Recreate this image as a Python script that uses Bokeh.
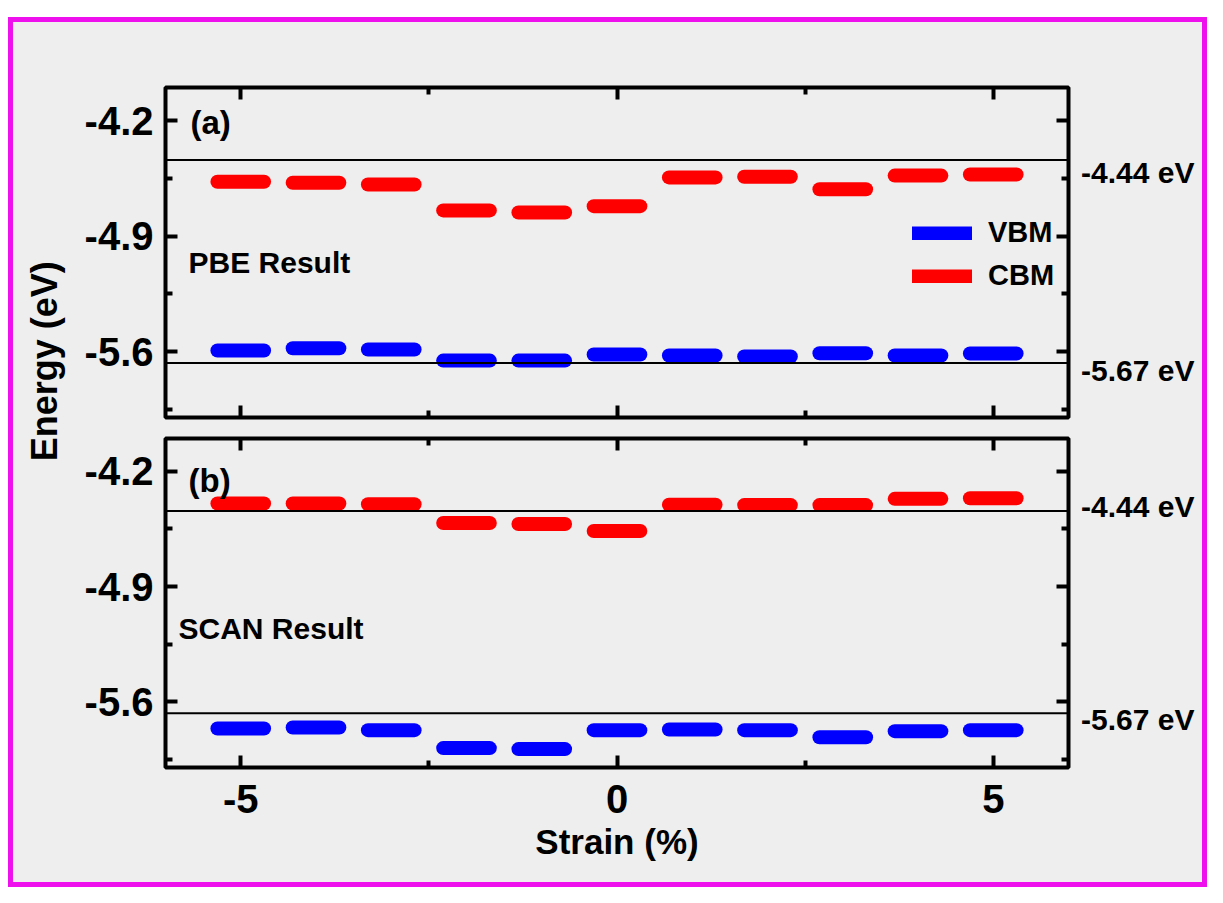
from bokeh.plotting import figure
from bokeh.models import (ColumnDataSource, Span, Label, Legend, LegendItem, FixedTicker,
                          LinearAxis, Range1d, CustomJSTickFormatter)
from bokeh.layouts import column, row
from bokeh.embed import file_html
from bokeh.resources import INLINE

# ---------------- data ----------------
strain = [-5, -4, -3, -2, -1, 0, 1, 2, 3, 4, 5]
pbe_vbm = [-5.594, -5.580, -5.588, -5.655, -5.655, -5.618, -5.624, -5.630, -5.611, -5.624, -5.612]
pbe_cbm = [-4.571, -4.577, -4.588, -4.745, -4.758, -4.719, -4.545, -4.541, -4.617, -4.534, -4.527]
scan_vbm = [-5.763, -5.757, -5.773, -5.882, -5.888, -5.773, -5.769, -5.773, -5.816, -5.779, -5.773]
scan_cbm = [-4.395, -4.395, -4.400, -4.514, -4.520, -4.562, -4.403, -4.405, -4.405, -4.367, -4.363]

ref_levels = [-4.44, -5.67]
ref_labels = ["-4.44 eV", "-5.67 eV"]
y_major = [-4.2, -4.9, -5.6]
y_minor = [-4.55, -5.25, -5.95]
x_major = [-5, 0, 5]
x_minor = [-2.5, 2.5]
panel_tags = ["(a)", "(b)"]
panel_titles = ["PBE Result", "SCAN Result"]
series_names = ["VBM", "CBM"]

# ---------------- style ----------------
FONT = "Liberation Sans"
BG = "#eeeeee"
MAGENTA = "#ee11ee"
BLUE = "#0000ff"
RED = "#ff0000"
DASH_HALF = 0.31
DASH_W = 14
FRAME_W = 903


def make_axis(ticks, minor, labels=False, size="40px", digits=1):
    ax = LinearAxis(ticker=FixedTicker(ticks=ticks, minor_ticks=minor))
    ax.axis_line_color = None
    ax.major_tick_in = 12
    ax.major_tick_out = 0
    ax.minor_tick_in = 7
    ax.minor_tick_out = 0
    ax.major_tick_line_width = 4
    ax.minor_tick_line_width = 4
    ax.major_tick_line_color = "black"
    ax.minor_tick_line_color = "black"
    if labels:
        ax.formatter = CustomJSTickFormatter(code="return tick.toFixed(%d);" % digits)
        ax.major_label_text_font = FONT
        ax.major_label_text_font_style = "bold"
        ax.major_label_text_font_size = size
        ax.major_label_text_color = "black"
    else:
        ax.formatter = CustomJSTickFormatter(code="return '';")
        ax.major_label_text_font_size = "0px"
        ax.major_label_standoff = 0
    return ax


def make_panel(vbm, cbm, tag, title, tag_pos, title_pos, fh, top, bottom, show_x, legend):
    p = figure(frame_width=FRAME_W, frame_height=fh,
               x_range=Range1d(-6, 6), y_range=Range1d(-6, -4),
               output_backend="svg", toolbar_location=None,
               x_axis_location=None, y_axis_location=None,
               min_border_left=97, min_border_right=10,
               min_border_top=top, min_border_bottom=bottom,
               background_fill_color=BG, border_fill_color=BG,
               outline_line_color="black", outline_line_width=4)
    p.grid.visible = False

    left = make_axis(y_major, y_minor, labels=True, digits=1)
    left.major_label_standoff = 12
    p.add_layout(left, "left")
    p.add_layout(make_axis(y_major, y_minor), "right")
    p.add_layout(make_axis(x_major, x_minor), "above")
    if show_x:
        bot = make_axis(x_major, x_minor, labels=True, digits=0)
        bot.major_label_standoff = 17
        bot.axis_label = "Strain (%)"
        bot.axis_label_text_font = FONT
        bot.axis_label_text_font_style = "bold"
        bot.axis_label_text_font_size = "35px"
        bot.axis_label_text_color = "black"
        bot.axis_label_standoff = 6
        p.add_layout(bot, "below")
    else:
        p.add_layout(make_axis(x_major, x_minor), "below")

    for lv in ref_levels:
        p.add_layout(Span(location=lv, dimension="width", line_color="black", line_width=2))

    src = ColumnDataSource(dict(
        x0=[s - DASH_HALF for s in strain], x1=[s + DASH_HALF for s in strain],
        vbm=vbm, cbm=cbm))
    rv = p.segment(x0="x0", y0="vbm", x1="x1", y1="vbm", source=src,
                   line_color=BLUE, line_width=DASH_W, line_cap="round")
    rc = p.segment(x0="x0", y0="cbm", x1="x1", y1="cbm", source=src,
                   line_color=RED, line_width=DASH_W, line_cap="round")

    p.add_layout(Label(x=tag_pos[0], y=tag_pos[1], text=tag, text_font=FONT, text_color="black",
                       text_font_style="bold", text_font_size="33px", text_baseline="middle"))
    p.add_layout(Label(x=title_pos[0], y=title_pos[1], text=title, text_font=FONT, text_color="black",
                       text_font_style="bold", text_font_size="30px", text_baseline="middle"))

    if legend:
        lg = Legend(items=[LegendItem(label=series_names[0], renderers=[rv]),
                           LegendItem(label=series_names[1], renderers=[rc])],
                    location=(747, 125), orientation="vertical",
                    border_line_color=None, background_fill_alpha=0,
                    glyph_width=60, glyph_height=14, label_height=29,
                    label_standoff=16, spacing=10, padding=0, margin=0,
                    label_text_font=FONT, label_text_font_style="bold",
                    label_text_color="black", label_text_font_size="29px")
        p.add_layout(lg)
    return p


def make_side(lab_pos, fh, top, bottom):
    r = figure(width=124, frame_height=fh, x_range=Range1d(0, 1), y_range=Range1d(-6, -4),
               output_backend="svg", toolbar_location=None,
               x_axis_location=None, y_axis_location=None,
               min_border_left=0, min_border_right=0,
               min_border_top=top, min_border_bottom=bottom,
               background_fill_color=BG, border_fill_color=BG, outline_line_color=None)
    r.grid.visible = False
    for txt, ly in zip(ref_labels, lab_pos):
        r.add_layout(Label(x=0.935, y=ly, text=txt, text_font=FONT, text_font_style="bold",
                           text_color="black", text_font_size="30px",
                           text_align="right", text_baseline="middle"))
    return r


p1 = make_panel(pbe_vbm, pbe_cbm, panel_tags[0], panel_titles[0],
                (-5.668, -4.215), (-5.694, -5.060),
                fh=330, top=65, bottom=10, show_x=False, legend=True)
p2 = make_panel(scan_vbm, scan_cbm, panel_tags[1], panel_titles[1],
                (-5.694, -4.254), (-5.827, -5.154),
                fh=329, top=11, bottom=115, show_x=True, legend=False)
r1 = make_side((-4.515, -5.715), fh=330, top=65, bottom=10)
r2 = make_side((-4.411, -5.709), fh=329, top=11, bottom=115)

lf = figure(width=55, height=860, x_range=Range1d(0, 1), y_range=Range1d(0, 1),
            output_backend="svg", toolbar_location=None,
            x_axis_location=None, y_axis_location=None,
            min_border=0, background_fill_color=BG, border_fill_color=BG,
            outline_line_color=None)
lf.grid.visible = False
lf.add_layout(Label(x=0.555, y=0.606, text="Energy (eV)", angle=90, angle_units="deg",
                    text_align="center", text_baseline="middle", text_font=FONT,
                    text_color="black", text_font_style="bold", text_font_size="36px"))

layout = row(lf, column(row(p1, r1), row(p2, r2)),
             styles={"border": "5px solid " + MAGENTA, "background-color": BG},
             margin=(17, 0, 0, 8))

open("out.html", "w").write(file_html(layout, INLINE))
